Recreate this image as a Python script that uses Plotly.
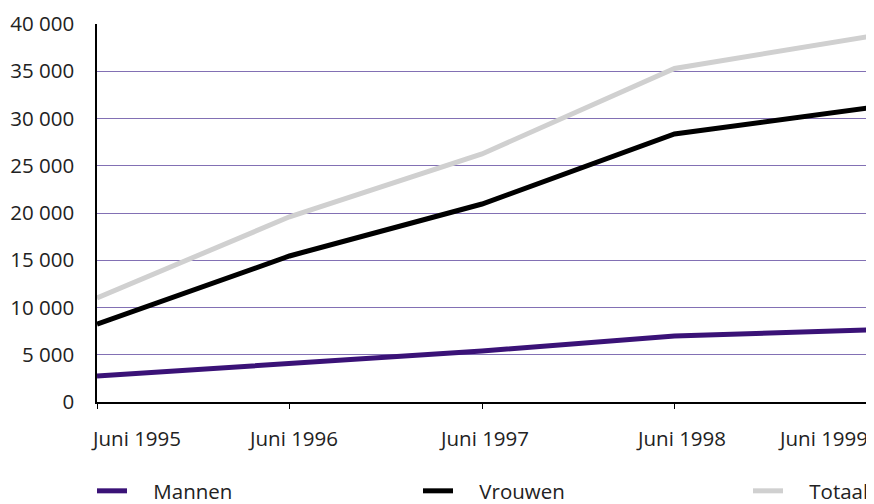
import plotly.graph_objects as go

periods = ["Juni 1995", "Juni 1996", "Juni 1997", "Juni 1998", "Juni 1999"]
mannen = [2750, 4130, 5400, 6980, 7620]
vrouwen = [8250, 15450, 20950, 28360, 31100]
totaal = [11000, 19600, 26250, 35300, 38650]
y_ticks = [0, 5000, 10000, 15000, 20000, 25000, 30000, 35000, 40000]

FONT = "Open Sans"
FS = 20.5
W, H = 866, 496  # page adds an 8px body margin
PAD = "\u00a0" * 4
xs = list(range(len(periods)))

fig = go.Figure()
fig.add_trace(go.Scatter(x=xs, y=totaal, name=PAD + "Totaal", mode="lines",
                         line=dict(color="#d0d0d0", width=5), legend="legend3"))
fig.add_trace(go.Scatter(x=xs, y=vrouwen, name=PAD + "Vrouwen", mode="lines",
                         line=dict(color="#000000", width=5), legend="legend2"))
fig.add_trace(go.Scatter(x=xs, y=mannen, name=PAD + "Mannen", mode="lines",
                         line=dict(color="#3a1277", width=5), legend="legend"))

anchors = ["left", "center", "center", "center", "right"]
shifts = [-8, 3, 2, 6, 3]
for i, (p, a, s) in enumerate(zip(periods, anchors, shifts)):
    fig.add_annotation(x=i, y=0, xref="x", yref="y", text=p, showarrow=False,
                       xanchor=a, yanchor="middle", xshift=s, yshift=-36,
                       font=dict(family=FONT, size=FS, color="#222222"))

def leg(xpx, anchor="left"):
    return dict(xref="container", yref="container", x=xpx / W, xanchor=anchor,
                y=1 - 483 / H, yanchor="middle", itemwidth=30,
                font=dict(family=FONT, size=FS, color="#222222"),
                bgcolor="rgba(0,0,0,0)", borderwidth=0)

fig.update_layout(
    width=W, height=H,
    margin=dict(l=89, r=7, t=16, b=102, autoexpand=False),
    paper_bgcolor="white", plot_bgcolor="white",
    separators=", ",
    font=dict(family=FONT, size=FS, color="#222222"),
    showlegend=True,
    legend=leg(84), legend2=leg(410), legend3=leg(W, "right"),
)
fig.update_xaxes(range=[0, 4], showgrid=False, showline=True, linecolor="#000000", linewidth=1.5,
                 tickvals=xs, ticktext=[""] * len(xs), ticks="outside", ticklen=5,
                 tickcolor="#000000", zeroline=False, automargin=False)
fig.update_yaxes(range=[0, 40000], tickvals=y_ticks, tickformat=",d", showgrid=True,
                 gridcolor="#8270b4", gridwidth=1, showline=True, linecolor="#000000",
                 linewidth=1.5, ticks="", zeroline=False, ticklabelstandoff=17, automargin=False)

fig.write_html("out.html")
